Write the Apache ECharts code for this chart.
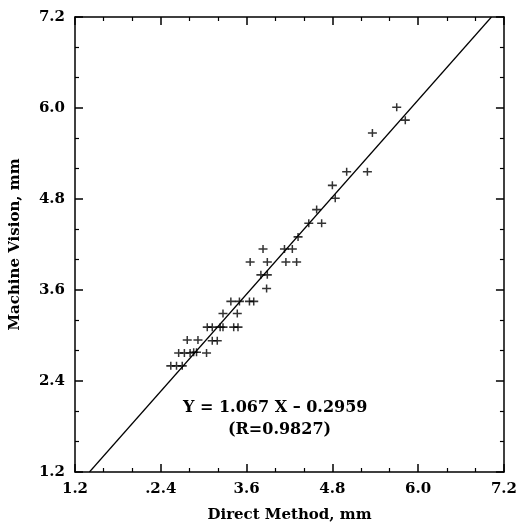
<!DOCTYPE html>
<html>
<head>
<meta charset="utf-8">
<script src="https://cdn.jsdelivr.net/npm/echarts@6/dist/echarts.min.js"></script>
<style>
  html, body { margin: 0; padding: 0; background: #ffffff; }
  #chart { width: 520px; height: 529px; }
</style>
</head>
<body>
<div id="chart"></div>
<script>
// measured points: Direct Method (x) vs Machine Vision (y), mm
var directMethod = [5.70, 5.82, 5.36, 5.00, 5.29, 4.80, 4.84, 4.58, 4.47, 4.65,
    4.32, 3.83, 4.13, 4.24, 3.65, 3.89, 4.15, 4.30, 3.80, 3.89,
    3.88, 3.38, 3.50, 3.64, 3.70, 3.27, 3.47, 3.05, 3.12, 3.23,
    3.27, 3.42, 3.48, 2.77, 2.92, 3.12, 3.19, 2.65, 2.73, 2.81,
    2.86, 2.90, 3.04, 2.54, 2.62, 2.70];
var machineVision = [6.01, 5.84, 5.67, 5.16, 5.16, 4.98, 4.81, 4.66, 4.48, 4.48,
    4.30, 4.14, 4.14, 4.14, 3.97, 3.97, 3.97, 3.97, 3.80, 3.80,
    3.62, 3.45, 3.45, 3.45, 3.45, 3.29, 3.29, 3.11, 3.11, 3.11,
    3.11, 3.11, 3.11, 2.94, 2.94, 2.93, 2.93, 2.77, 2.77, 2.77,
    2.78, 2.78, 2.77, 2.60, 2.60, 2.60];
var xTickLabels = ['1.2', '.2.4', '3.6', '4.8', '6.0', '7.2'];
var yTickLabels = ['1.2', '2.4', '3.6', '4.8', '6.0', '7.2'];
var slope = 1.067;
var intercept = -0.2959;
var rValue = 0.9827;
var axisMin = 1.2, axisMax = 7.2, axisStep = 1.2;

var points = directMethod.map(function (x, i) { return [x, machineVision[i]]; });
// regression line end points where it meets the bottom and top of the frame
var fitLine = [[(axisMin - intercept) / slope, axisMin], [(axisMax - intercept) / slope, axisMax]];

var serif = '"DejaVu Serif", "Liberation Serif", serif';
var labelStyle = { color: '#000', fontFamily: serif, fontWeight: 'bold', fontSize: 15 };

function tickIndex(v) { return Math.round((v - axisMin) / axisStep); }

function makeAxis(pos, labels, extra) {
    var ax = {
        type: 'value', position: pos, min: axisMin, max: axisMax, interval: axisStep,
        axisLine: { show: true, onZero: false, lineStyle: { color: '#000', width: 1.5 } },
        axisTick: { show: true, inside: true, length: 8, lineStyle: { color: '#000', width: 1.5 } },
        minorTick: { show: true, splitNumber: 3, length: 4, lineStyle: { color: '#000', width: 1.2 } },
        splitLine: { show: false },
        axisLabel: labels ? Object.assign({ margin: 10, formatter: function (v) { return labels[tickIndex(v)]; } }, labelStyle) : { show: false }
    };
    return Object.assign(ax, extra || {});
}

var chart = echarts.init(document.getElementById('chart'));
var option = {
    backgroundColor: '#ffffff',
    animation: false,
    grid: { left: 70, right: 10, top: 17, bottom: 57 },
    xAxis: [
        makeAxis('bottom', xTickLabels, {
            name: 'Direct Method, mm', nameLocation: 'middle', nameGap: 36,
            nameTextStyle: { color: '#000', fontFamily: serif, fontWeight: 'bold', fontSize: 15 }
        }),
        makeAxis('top', null)
    ],
    yAxis: [
        makeAxis('left', yTickLabels, {
            name: 'Machine Vision, mm', nameLocation: 'middle', nameGap: 52,
            nameTextStyle: { color: '#000', fontFamily: serif, fontWeight: 'bold', fontSize: 15 }
        }),
        makeAxis('right', null)
    ],
    series: [{
        type: 'line',
        data: fitLine,
        symbol: 'none',
        lineStyle: { color: '#000', width: 1.2 },
        silent: true
    }, {
        type: 'scatter',
        data: points,
        symbol: 'path://M4,0H6V4H11V6H6V10H4V6H-1V4H4Z',
        symbolSize: [9, 8],
        itemStyle: { color: '#000' }
    }],
    graphic: [{
        type: 'text', left: 183, top: 400,
        style: { text: 'Y = ' + slope + ' X \u2013 ' + Math.abs(intercept), fill: '#000', font: 'bold 16px ' + serif }
    }, {
        type: 'text', left: 228, top: 422,
        style: { text: '(R=' + rValue + ')', fill: '#000', font: 'bold 16px ' + serif }
    }]
};
chart.setOption(option);
</script>
</body>
</html>
